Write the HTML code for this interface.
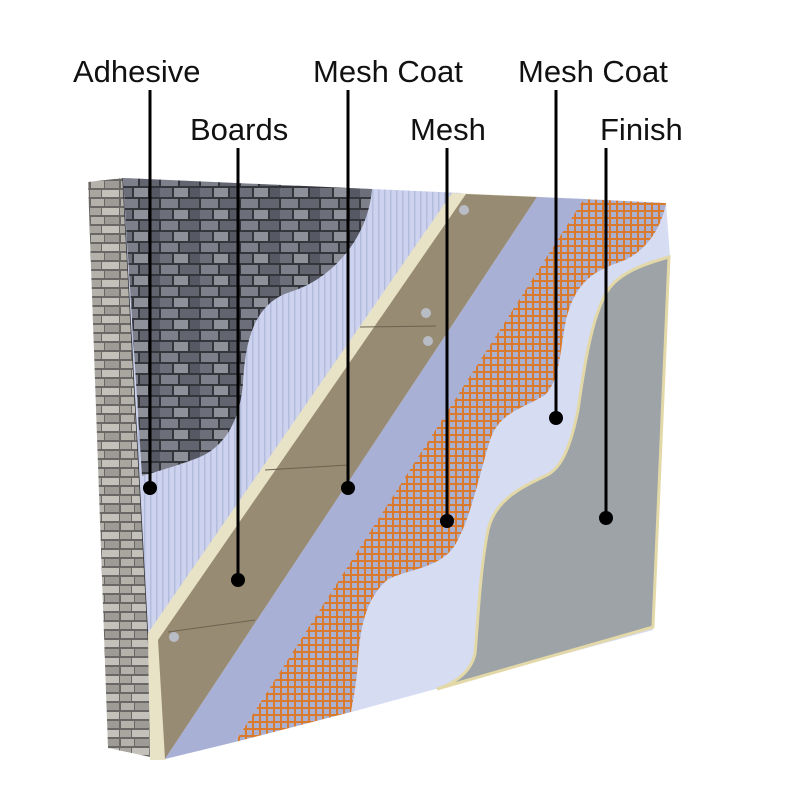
<!DOCTYPE html>
<html><head><meta charset="utf-8"><style>
html,body{margin:0;padding:0;background:#fff;}
svg{display:block}
text{font-family:"Liberation Sans",sans-serif;font-size:31px;fill:#111;}
</style></head><body>
<svg width="800" height="800" viewBox="0 0 800 800" xmlns="http://www.w3.org/2000/svg">
<defs>
<pattern id="stone" width="40" height="22" patternUnits="userSpaceOnUse">
<rect width="40" height="22" fill="#34363c"/>
<rect x="1" y="1" width="17" height="9" fill="#7d808a"/>
<rect x="20" y="1" width="19" height="9" fill="#62656f"/>
<rect x="-8" y="12" width="20" height="9" fill="#6c6f79"/>
<rect x="14" y="12" width="14" height="9" fill="#8e919a"/>
<rect x="30" y="12" width="18" height="9" fill="#565963"/>
</pattern>
<pattern id="stone2" width="30" height="18" patternUnits="userSpaceOnUse">
<rect width="30" height="18" fill="#6a6866"/>
<rect x="1" y="1" width="13" height="7" fill="#b5b2ac"/>
<rect x="15" y="1" width="14" height="7" fill="#9e9b96"/>
<rect x="-5" y="10" width="16" height="7" fill="#a9a6a0"/>
<rect x="12" y="10" width="17" height="7" fill="#c4c1bb"/>
</pattern>
<pattern id="rib" width="6" height="10" patternUnits="userSpaceOnUse">
<rect width="6" height="10" fill="#cdd3ee"/>
<rect x="0" width="1.5" height="10" fill="#b4bcdd"/>
</pattern>
<pattern id="mesh" width="7" height="7" patternUnits="userSpaceOnUse">
<rect width="7" height="7" fill="#aab0cf"/>
<rect x="0" width="2" height="7" fill="#d97a2e"/>
<rect y="0" width="7" height="2" fill="#d97a2e"/>
</pattern>
</defs>

<!-- side face -->
<polygon points="88,182 123,178 155,758 108,748" fill="url(#stone2)"/>
<line x1="123" y1="178" x2="155" y2="758" stroke="#333" stroke-width="1.5"/>

<!-- adhesive ribbed -->
<polygon points="123,178 462,193 148,633 150,758 155,758" fill="url(#rib)"/>
<!-- stone front -->
<path d="M123,178 L372,189 C368,240 330,280 290,292 C250,305 245,350 243,383 C240,420 225,450 192,460 C170,468 155,472 142,476 Z" fill="url(#stone)"/>

<!-- cream edge + board -->
<polygon points="452,193 545,197 165,760 150,760 148,633" fill="#e8e2c6"/>
<polygon points="466,194 537,197 165,759 158,640" fill="#988b74"/>
<line x1="360" y1="327" x2="436" y2="326" stroke="#6c624f" stroke-width="1"/>
<line x1="265" y1="470" x2="348" y2="465" stroke="#6c624f" stroke-width="1"/>
<line x1="168" y1="632" x2="255" y2="620" stroke="#6c624f" stroke-width="1"/>
<circle cx="464" cy="210" r="5" fill="#b8bcc4"/>
<circle cx="426" cy="313" r="5" fill="#b8bcc4"/>
<circle cx="428" cy="341" r="5" fill="#b8bcc4"/>
<circle cx="174" cy="637" r="5" fill="#b8bcc4"/>

<!-- mesh coat 1 -->
<polygon points="537,197 586,199 235,742 165,759" fill="#a8b0d6"/>
<!-- orange mesh region -->
<polygon points="584,199 666,203 653,627 351,712 235,742" fill="url(#mesh)"/>
<!-- mesh coat 2 white (covers everything right of wave) -->
<path d="M666,203 C660,235 640,255 620,262 C590,272 575,285 566,320 C560,350 560,380 545,395 C520,410 500,412 490,440 C478,480 470,520 455,545 C440,570 400,570 386,581 C365,600 360,630 358,660 C356,690 352,705 351,712 L653,630 L670,257 Z" fill="#d6dcf2"/>
<!-- finish -->
<path d="M669,257 C640,265 615,275 605,295 C592,320 585,360 578,410 C570,450 560,470 545,476 C520,488 495,500 488,530 C480,570 478,620 475,654 C470,675 450,685 437,689 L653,627 Z" fill="#9da3a6" stroke="#e3d9a8" stroke-width="3"/>

<!-- leaders -->
<g stroke="#000" stroke-width="3">
<line x1="150" y1="90" x2="150" y2="488"/>
<line x1="238" y1="148" x2="238" y2="580"/>
<line x1="348" y1="90" x2="348" y2="488"/>
<line x1="447" y1="148" x2="447" y2="521"/>
<line x1="556" y1="90" x2="556" y2="418"/>
<line x1="606" y1="148" x2="606" y2="518"/>
</g>
<g fill="#000">
<circle cx="150" cy="488" r="7"/>
<circle cx="238" cy="580" r="7"/>
<circle cx="348" cy="488" r="7"/>
<circle cx="447" cy="521" r="7"/>
<circle cx="556" cy="418" r="7"/>
<circle cx="606" cy="518" r="7"/>
</g>
<text x="73" y="82">Adhesive</text>
<text x="190" y="140">Boards</text>
<text x="313" y="82">Mesh Coat</text>
<text x="410" y="140">Mesh</text>
<text x="518" y="82">Mesh Coat</text>
<text x="600" y="140">Finish</text>
</svg>
</body></html>
